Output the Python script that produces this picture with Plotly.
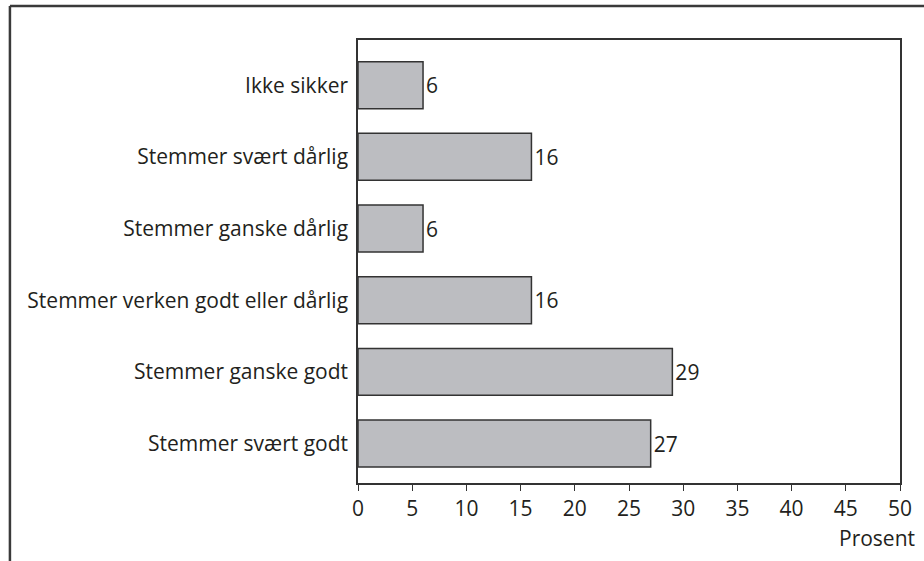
import plotly.graph_objects as go

# Survey answers, listed bottom to top as drawn
categories = [
    "Stemmer svært godt",
    "Stemmer ganske godt",
    "Stemmer verken godt eller dårlig",
    "Stemmer ganske dårlig",
    "Stemmer svært dårlig",
    "Ikke sikker",
]
percent = [27, 29, 16, 6, 16, 6]
x_ticks = [0, 5, 10, 15, 20, 25, 30, 35, 40, 45, 50]

W, H = 924, 561
L, R, T, B = 358, 21, 40, 78
plot_w = W - L - R
plot_h = H - T - B

font = dict(family="Open Sans, Noto Sans, sans-serif", size=21, color="#231f20")
ink = "#333333"

positions = list(range(len(categories)))

fig = go.Figure(
    go.Bar(
        x=percent,
        y=positions,
        orientation="h",
        marker=dict(color="#bcbdc1", line=dict(color=ink, width=1.5)),
        text=[str(v) for v in percent],
        textposition="outside",
        textfont=font,
        cliponaxis=False,
        hoverinfo="skip",
    )
)


def px_to_paper_x(px):
    return (px - L) / plot_w


def px_to_paper_y(py):
    return (H - B - py) / plot_h


# Outer frame: heavy rule along the top and down the left side
frame = dict(color="#3a3a3a", width=2.5)
fig.add_shape(type="line", xref="paper", yref="paper",
              x0=px_to_paper_x(8), x1=px_to_paper_x(W + 5),
              y0=px_to_paper_y(6), y1=px_to_paper_y(6), line=frame)
fig.add_shape(type="line", xref="paper", yref="paper",
              x0=px_to_paper_x(8), x1=px_to_paper_x(8),
              y0=px_to_paper_y(6), y1=px_to_paper_y(H + 5), line=frame)

fig.add_annotation(
    text="Prosent", xref="paper", yref="paper",
    x=px_to_paper_x(920), y=px_to_paper_y(538),
    xanchor="right", yanchor="middle", showarrow=False, font=font,
)

fig.update_layout(
    width=W, height=H,
    margin=dict(l=L, r=R, t=T, b=B, pad=0),
    paper_bgcolor="white", plot_bgcolor="white",
    bargap=0.345,
    showlegend=False,
    font=font,
    xaxis=dict(
        range=[0, 50], tickvals=x_ticks, ticks="outside", ticklen=6,
        tickcolor=ink, tickwidth=1.2, showline=True, linecolor=ink,
        linewidth=1.5, mirror=True, showgrid=False, zeroline=False,
        tickfont=font, fixedrange=True,
    ),
    yaxis=dict(
        range=[-0.55, 5.63], tickvals=positions, ticktext=categories,
        ticks="", showline=True, linecolor=ink, linewidth=1.5,
        mirror=True, showgrid=False, zeroline=False, tickfont=font,
        ticklabelstandoff=4, fixedrange=True,
    ),
)

fig.write_html("out.html")
